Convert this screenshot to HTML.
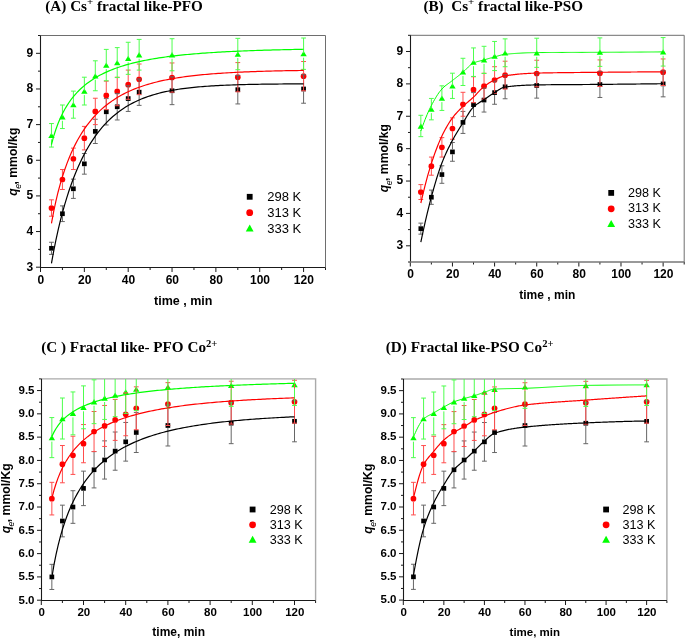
<!DOCTYPE html>
<html><head><meta charset="utf-8"><style>
html,body{margin:0;padding:0;background:#fff;}
svg{display:block;}
.tl{font-family:"Liberation Sans",sans-serif;font-weight:bold;fill:#000;}
.al{font-family:"Liberation Sans",sans-serif;font-weight:bold;fill:#000;}
.lg{font-family:"Liberation Sans",sans-serif;fill:#000;}
.tt{font-family:"Liberation Serif",serif;font-weight:bold;font-size:14px;fill:#000;}
</style></head><body>
<svg style="will-change:transform" width="685" height="639" viewBox="0 0 685 639">
<rect width="685" height="639" fill="#fff"/>
<g id="pA">
<clipPath id="cA"><rect x="40.5" y="35.5" width="285" height="231.7"/></clipPath>
<path d="M40.5 35.5H325.5V267.2" fill="none" stroke="#6e6e6e" stroke-width="1.0"/>
<path d="M36 267.2H40.5M38 249.38H40.5M36 231.55H40.5M38 213.73H40.5M36 195.91H40.5M38 178.08H40.5M36 160.26H40.5M38 142.44H40.5M36 124.62H40.5M38 106.79H40.5M36 88.97H40.5M38 71.15H40.5M36 53.32H40.5M38 35.5H40.5M40.5 267.5V272M62.42 267.5V270M84.35 267.5V272M106.27 267.5V270M128.19 267.5V272M150.12 267.5V270M172.04 267.5V272M193.96 267.5V270M215.88 267.5V272M237.81 267.5V270M259.73 267.5V272M281.65 267.5V270M303.58 267.5V272M325.5 267.5V270" stroke="#1a1a1a" stroke-width="1" fill="none"/>
<path d="M40.5 35.5V267.5" fill="none" stroke="#1a1a1a" stroke-width="1.1"/>
<path d="M40 267.5H325.5" fill="none" stroke="#1a1a1a" stroke-width="1.1"/>
<text x="33.3" y="270.5" class="tl" font-size="12" text-anchor="end">3</text>
<text x="33.3" y="234.85" class="tl" font-size="12" text-anchor="end">4</text>
<text x="33.3" y="199.21" class="tl" font-size="12" text-anchor="end">5</text>
<text x="33.3" y="163.56" class="tl" font-size="12" text-anchor="end">6</text>
<text x="33.3" y="127.92" class="tl" font-size="12" text-anchor="end">7</text>
<text x="33.3" y="92.27" class="tl" font-size="12" text-anchor="end">8</text>
<text x="33.3" y="56.62" class="tl" font-size="12" text-anchor="end">9</text>
<text x="40.8" y="283.9" class="tl" font-size="12" text-anchor="middle">0</text>
<text x="84.65" y="283.9" class="tl" font-size="12" text-anchor="middle">20</text>
<text x="128.49" y="283.9" class="tl" font-size="12" text-anchor="middle">40</text>
<text x="172.34" y="283.9" class="tl" font-size="12" text-anchor="middle">60</text>
<text x="216.18" y="283.9" class="tl" font-size="12" text-anchor="middle">80</text>
<text x="260.03" y="283.9" class="tl" font-size="12" text-anchor="middle">100</text>
<text x="303.88" y="283.9" class="tl" font-size="12" text-anchor="middle">120</text>
<text x="183.2" y="305.4" class="al" font-size="12.5" text-anchor="middle">time , min</text>
<text transform="translate(16.9 161.7) rotate(-90)" class="al" font-size="12.2" text-anchor="middle"><tspan font-style="italic">q</tspan><tspan font-style="italic" font-weight="normal" font-size="8.5" dy="4.2" dx="-0.5">e</tspan><tspan dy="-4.2" dx="-0.5">, mmol/kg</tspan></text>
<rect x="49.11" y="245.96" width="4.7" height="4.7" fill="#000"/>
<rect x="60.07" y="211.38" width="4.7" height="4.7" fill="#000"/>
<rect x="71.03" y="186.43" width="4.7" height="4.7" fill="#000"/>
<rect x="82" y="161.48" width="4.7" height="4.7" fill="#000"/>
<rect x="92.96" y="129.04" width="4.7" height="4.7" fill="#000"/>
<rect x="103.92" y="109.43" width="4.7" height="4.7" fill="#000"/>
<rect x="114.88" y="104.44" width="4.7" height="4.7" fill="#000"/>
<rect x="125.84" y="96.24" width="4.7" height="4.7" fill="#000"/>
<rect x="136.8" y="89.83" width="4.7" height="4.7" fill="#000"/>
<rect x="169.69" y="88.4" width="4.7" height="4.7" fill="#000"/>
<rect x="235.46" y="87.33" width="4.7" height="4.7" fill="#000"/>
<rect x="301.23" y="86.62" width="4.7" height="4.7" fill="#000"/>
<circle cx="51.46" cy="208.03" r="2.85" fill="#ff0000"/>
<circle cx="62.42" cy="179.51" r="2.85" fill="#ff0000"/>
<circle cx="73.38" cy="158.84" r="2.85" fill="#ff0000"/>
<circle cx="84.35" cy="138.16" r="2.85" fill="#ff0000"/>
<circle cx="95.31" cy="111.43" r="2.85" fill="#ff0000"/>
<circle cx="106.27" cy="95.39" r="2.85" fill="#ff0000"/>
<circle cx="117.23" cy="91.46" r="2.85" fill="#ff0000"/>
<circle cx="128.19" cy="84.69" r="2.85" fill="#ff0000"/>
<circle cx="139.15" cy="79.34" r="2.85" fill="#ff0000"/>
<circle cx="172.04" cy="77.56" r="2.85" fill="#ff0000"/>
<circle cx="237.81" cy="77.21" r="2.85" fill="#ff0000"/>
<circle cx="303.58" cy="76.14" r="2.85" fill="#ff0000"/>
<path d="M48.26 137.96L51.46 132.66L54.66 137.96Z" fill="#00ff00"/>
<path d="M59.22 119.42L62.42 114.12L65.62 119.42Z" fill="#00ff00"/>
<path d="M70.18 107.3L73.38 102L76.58 107.3Z" fill="#00ff00"/>
<path d="M81.15 93.76L84.35 88.46L87.55 93.76Z" fill="#00ff00"/>
<path d="M92.11 78.43L95.31 73.13L98.51 78.43Z" fill="#00ff00"/>
<path d="M103.07 67.74L106.27 62.44L109.47 67.74Z" fill="#00ff00"/>
<path d="M114.03 65.24L117.23 59.94L120.43 65.24Z" fill="#00ff00"/>
<path d="M124.99 60.96L128.19 55.66L131.39 60.96Z" fill="#00ff00"/>
<path d="M135.95 57.4L139.15 52.1L142.35 57.4Z" fill="#00ff00"/>
<path d="M168.84 57.4L172.04 52.1L175.24 57.4Z" fill="#00ff00"/>
<path d="M234.61 56.69L237.81 51.39L241.01 56.69Z" fill="#00ff00"/>
<path d="M300.38 56.33L303.58 51.03L306.78 56.33Z" fill="#00ff00"/>
<path d="M51.46 242.25V245.96M51.46 250.66V254.37M49.06 242.25H53.86M49.06 254.37H53.86M62.42 205.89V211.38M62.42 216.08V221.57M60.02 205.89H64.82M60.02 221.57H64.82M73.38 179.15V186.43M73.38 191.13V198.4M70.98 179.15H75.78M70.98 198.4H75.78M84.35 153.49V161.48M84.35 166.18V174.16M81.95 153.49H86.75M81.95 174.16H86.75M95.31 119.27V129.04M95.31 133.74V143.51M92.91 119.27H97.71M92.91 143.51H97.71M106.27 98.59V109.43M106.27 114.13V124.97M103.87 98.59H108.67M103.87 124.97H108.67M117.23 93.6V104.44M117.23 109.14V119.98M114.83 93.6H119.63M114.83 119.98H119.63M128.19 85.76V96.24M128.19 100.94V111.43M125.79 85.76H130.59M125.79 111.43H130.59M139.15 78.99V89.83M139.15 94.53V105.37M136.75 78.99H141.55M136.75 105.37H141.55M172.04 76.85V88.4M172.04 93.1V104.65M169.64 76.85H174.44M169.64 104.65H174.44M237.81 75.42V87.33M237.81 92.03V103.94M235.41 75.42H240.21M235.41 103.94H240.21M303.58 74.71V86.62M303.58 91.32V103.23M301.18 74.71H305.98M301.18 103.23H305.98" stroke="#666" stroke-width="1" fill="none" clip-path="url(#cA)"/>
<path d="M51.46 199.83V205.18M51.46 210.88V216.23M49.06 199.83H53.86M49.06 216.23H53.86M62.42 169.53V176.66M62.42 182.36V189.49M60.02 169.53H64.82M60.02 189.49H64.82M73.38 148.14V155.99M73.38 161.69V169.53M70.98 148.14H75.78M70.98 169.53H75.78M84.35 126.4V135.31M84.35 141.01V149.92M81.95 126.4H86.75M81.95 149.92H86.75M95.31 98.24V108.58M95.31 114.28V124.62M92.91 98.24H97.71M92.91 124.62H97.71M106.27 81.13V92.54M106.27 98.24V109.64M103.87 81.13H108.67M103.87 109.64H108.67M117.23 77.21V88.61M117.23 94.31V105.72M114.83 77.21H119.63M114.83 105.72H119.63M128.19 70.08V81.84M128.19 87.54V99.31M125.79 70.08H130.59M125.79 99.31H130.59M139.15 64.02V76.49M139.15 82.19V94.67M136.75 64.02H141.55M136.75 94.67H141.55M172.04 62.95V74.71M172.04 80.41V92.18M169.64 62.95H174.44M169.64 92.18H174.44M237.81 62.59V74.36M237.81 80.06V91.82M235.41 62.59H240.21M235.41 91.82H240.21M303.58 61.52V73.29M303.58 78.99V90.75M301.18 61.52H305.98M301.18 90.75H305.98" stroke="#ff4d4d" stroke-width="1" fill="none" clip-path="url(#cA)"/>
<path d="M51.46 123.55V134.81M51.46 139.31V147.07M49.06 123.55H53.86M49.06 147.07H53.86M62.42 105.01V116.27M62.42 120.77V128.54M60.02 105.01H64.82M60.02 128.54H64.82M73.38 91.11V104.15M73.38 108.65V118.2M70.98 91.11H75.78M70.98 118.2H75.78M84.35 77.21V90.61M84.35 95.11V105.01M81.95 77.21H86.75M81.95 105.01H86.75M95.31 60.81V75.28M95.31 79.78V90.75M92.91 60.81H97.71M92.91 90.75H97.71M106.27 49.4V64.59M106.27 69.09V80.77M103.87 49.4H108.67M103.87 80.77H108.67M117.23 47.62V62.09M117.23 66.59V77.56M114.83 47.62H119.63M114.83 77.56H119.63M128.19 42.27V57.81M128.19 62.31V74.35M125.79 42.27H130.59M125.79 74.35H130.59M139.15 39.42V54.25M139.15 58.75V70.08M136.75 39.42H141.55M136.75 70.08H141.55M172.04 38.71V54.25M172.04 58.75V70.79M169.64 38.71H174.44M169.64 70.79H174.44M237.81 38.35V53.54M237.81 58.04V69.72M235.41 38.35H240.21M235.41 69.72H240.21M303.58 38V53.18M303.58 57.68V69.36M301.18 38H305.98M301.18 69.36H305.98" stroke="#4dff4d" stroke-width="1" fill="none" clip-path="url(#cA)"/>
<path d="M51.46 263.33L53.65 251.27L55.85 240.35L58.04 230.37L60.23 221.2L62.42 212.73L64.62 204.88L66.81 197.59L69 190.8L71.19 184.47L73.38 178.54L75.58 173L77.77 167.81L79.96 162.94L82.15 158.37L84.35 154.08L86.54 150.04L88.73 146.24L90.92 142.67L93.12 139.31L95.31 136.14L97.5 133.16L99.69 130.35L101.88 127.7L104.08 125.2L106.27 122.85L108.46 120.63L110.65 118.53L112.85 116.56L115.04 114.69L117.23 112.93L119.42 111.28L121.62 109.71L123.81 108.23L126 106.84L128.19 105.52L130.38 104.28L132.58 103.1L134.77 102L136.96 100.95L139.15 99.97L141.35 99.04L143.54 98.16L145.73 97.33L147.92 96.55L150.12 95.81L152.31 95.12L154.5 94.46L156.69 93.84L158.88 93.25L161.08 92.7L163.27 92.18L165.46 91.69L167.65 91.23L169.85 90.79L172.04 90.38L174.23 89.99L176.42 89.62L178.62 89.28L180.81 88.95L183 88.65L185.19 88.36L187.38 88.08L189.58 87.83L191.77 87.58L193.96 87.35L196.15 87.14L198.35 86.94L200.54 86.74L202.73 86.56L204.92 86.39L207.12 86.23L209.31 86.08L211.5 85.94L213.69 85.81L215.88 85.68L218.08 85.56L220.27 85.45L222.46 85.34L224.65 85.25L226.85 85.15L229.04 85.06L231.23 84.98L233.42 84.9L235.62 84.83L237.81 84.76L240 84.7L242.19 84.64L244.38 84.58L246.58 84.52L248.77 84.47L250.96 84.42L253.15 84.38L255.35 84.34L257.54 84.3L259.73 84.26L261.92 84.22L264.12 84.19L266.31 84.16L268.5 84.13L270.69 84.1L272.88 84.08L275.08 84.05L277.27 84.03L279.46 84.01L281.65 83.99L283.85 83.97L286.04 83.95L288.23 83.93L290.42 83.92L292.62 83.9L294.81 83.89L297 83.88L299.19 83.86L301.38 83.85L303.58 83.84" stroke="#000" stroke-width="1.2" fill="none" clip-path="url(#cA)"/>
<path d="M51.46 223.3L53.65 211.59L55.85 201.33L58.04 192.22L60.23 184.06L62.42 176.69L64.62 169.99L66.81 163.87L69 158.26L71.19 153.09L73.38 148.32L75.58 143.89L77.77 139.79L79.96 135.97L82.15 132.4L84.35 129.08L86.54 125.96L88.73 123.05L90.92 120.31L93.12 117.75L95.31 115.33L97.5 113.06L99.69 110.92L101.88 108.9L104.08 107L106.27 105.2L108.46 103.5L110.65 101.9L112.85 100.38L115.04 98.94L117.23 97.58L119.42 96.28L121.62 95.06L123.81 93.9L126 92.79L128.19 91.74L130.38 90.75L132.58 89.8L134.77 88.9L136.96 88.05L139.15 87.23L141.35 86.46L143.54 85.72L145.73 85.02L147.92 84.35L150.12 83.71L152.31 83.11L154.5 82.53L156.69 81.97L158.88 81.45L161.08 80.94L163.27 80.46L165.46 80L167.65 79.57L169.85 79.15L172.04 78.75L174.23 78.37L176.42 78L178.62 77.66L180.81 77.32L183 77L185.19 76.7L187.38 76.41L189.58 76.13L191.77 75.86L193.96 75.61L196.15 75.36L198.35 75.13L200.54 74.91L202.73 74.69L204.92 74.49L207.12 74.29L209.31 74.1L211.5 73.92L213.69 73.75L215.88 73.59L218.08 73.43L220.27 73.28L222.46 73.13L224.65 72.99L226.85 72.86L229.04 72.73L231.23 72.61L233.42 72.49L235.62 72.37L237.81 72.27L240 72.16L242.19 72.06L244.38 71.97L246.58 71.87L248.77 71.79L250.96 71.7L253.15 71.62L255.35 71.54L257.54 71.47L259.73 71.39L261.92 71.33L264.12 71.26L266.31 71.19L268.5 71.13L270.69 71.07L272.88 71.02L275.08 70.96L277.27 70.91L279.46 70.86L281.65 70.81L283.85 70.77L286.04 70.72L288.23 70.68L290.42 70.64L292.62 70.6L294.81 70.56L297 70.53L299.19 70.49L301.38 70.46L303.58 70.42" stroke="#ff0000" stroke-width="1.2" fill="none" clip-path="url(#cA)"/>
<path d="M51.46 144.63L53.65 136.4L55.85 129.46L58.04 123.49L60.23 118.28L62.42 113.67L64.62 109.55L66.81 105.85L69 102.49L71.19 99.44L73.38 96.65L75.58 94.08L77.77 91.71L79.96 89.52L82.15 87.49L84.35 85.6L86.54 83.83L88.73 82.18L90.92 80.64L93.12 79.19L95.31 77.82L97.5 76.54L99.69 75.33L101.88 74.19L104.08 73.11L106.27 72.09L108.46 71.12L110.65 70.2L112.85 69.33L115.04 68.5L117.23 67.72L119.42 66.97L121.62 66.25L123.81 65.57L126 64.92L128.19 64.3L130.38 63.71L132.58 63.14L134.77 62.6L136.96 62.09L139.15 61.59L141.35 61.12L143.54 60.66L145.73 60.22L147.92 59.81L150.12 59.4L152.31 59.02L154.5 58.65L156.69 58.29L158.88 57.95L161.08 57.62L163.27 57.31L165.46 57L167.65 56.71L169.85 56.43L172.04 56.16L174.23 55.89L176.42 55.64L178.62 55.4L180.81 55.16L183 54.94L185.19 54.72L187.38 54.51L189.58 54.31L191.77 54.11L193.96 53.92L196.15 53.74L198.35 53.56L200.54 53.39L202.73 53.22L204.92 53.06L207.12 52.91L209.31 52.76L211.5 52.62L213.69 52.48L215.88 52.34L218.08 52.21L220.27 52.08L222.46 51.96L224.65 51.84L226.85 51.72L229.04 51.61L231.23 51.5L233.42 51.4L235.62 51.3L237.81 51.2L240 51.1L242.19 51.01L244.38 50.92L246.58 50.83L248.77 50.75L250.96 50.67L253.15 50.59L255.35 50.51L257.54 50.44L259.73 50.36L261.92 50.29L264.12 50.22L266.31 50.16L268.5 50.09L270.69 50.03L272.88 49.97L275.08 49.91L277.27 49.85L279.46 49.8L281.65 49.74L283.85 49.69L286.04 49.64L288.23 49.59L290.42 49.54L292.62 49.49L294.81 49.45L297 49.4L299.19 49.36L301.38 49.32L303.58 49.27" stroke="#00ff00" stroke-width="1.2" fill="none" clip-path="url(#cA)"/>
<rect x="246.8" y="193.9" width="5.8" height="5.8" fill="#000"/>
<text x="267.2" y="201.3" class="lg" font-size="13">298 K</text>
<circle cx="249.7" cy="212.7" r="3.4" fill="#ff0000"/>
<text x="267.2" y="217.1" class="lg" font-size="13">313 K</text>
<path d="M245.8 231.4L249.7 224.5L253.6 231.4Z" fill="#00ff00"/>
<text x="267.2" y="233.2" class="lg" font-size="13">333 K</text>
<text transform="translate(45.3 10.7) scale(1.085 1)" class="tt">(A) Cs<tspan font-size="10" dy="-5.8">+</tspan><tspan dy="5.8"> fractal like-PFO</tspan></text>
</g>
<g id="pB">
<clipPath id="cB"><rect x="410.3" y="35.3" width="273.9" height="226.7"/></clipPath>
<path d="M410.3 35.3H684.2V262" fill="none" stroke="#6e6e6e" stroke-width="1.0"/>
<path d="M408 262H410.5M406 245.81H410.5M408 229.61H410.5M406 213.42H410.5M408 197.23H410.5M406 181.04H410.5M408 164.84H410.5M406 148.65H410.5M408 132.46H410.5M406 116.26H410.5M408 100.07H410.5M406 83.88H410.5M408 67.69H410.5M406 51.49H410.5M408 35.3H410.5M410.3 262V266.5M431.37 262V264.5M452.44 262V266.5M473.51 262V264.5M494.58 262V266.5M515.65 262V264.5M536.72 262V266.5M557.78 262V264.5M578.85 262V266.5M599.92 262V264.5M620.99 262V266.5M642.06 262V264.5M663.13 262V266.5M684.2 262V264.5" stroke="#1a1a1a" stroke-width="1" fill="none"/>
<path d="M410.5 35.3V262" fill="none" stroke="#1a1a1a" stroke-width="1.1"/>
<path d="M410 262H684.2" fill="none" stroke="#777" stroke-width="1.6"/>
<text x="403.2" y="249.11" class="tl" font-size="12" text-anchor="end">3</text>
<text x="403.2" y="216.72" class="tl" font-size="12" text-anchor="end">4</text>
<text x="403.2" y="184.34" class="tl" font-size="12" text-anchor="end">5</text>
<text x="403.2" y="151.95" class="tl" font-size="12" text-anchor="end">6</text>
<text x="403.2" y="119.56" class="tl" font-size="12" text-anchor="end">7</text>
<text x="403.2" y="87.18" class="tl" font-size="12" text-anchor="end">8</text>
<text x="403.2" y="54.79" class="tl" font-size="12" text-anchor="end">9</text>
<text x="410.6" y="277.9" class="tl" font-size="12" text-anchor="middle">0</text>
<text x="452.74" y="277.9" class="tl" font-size="12" text-anchor="middle">20</text>
<text x="494.88" y="277.9" class="tl" font-size="12" text-anchor="middle">40</text>
<text x="537.02" y="277.9" class="tl" font-size="12" text-anchor="middle">60</text>
<text x="579.15" y="277.9" class="tl" font-size="12" text-anchor="middle">80</text>
<text x="621.29" y="277.9" class="tl" font-size="12" text-anchor="middle">100</text>
<text x="663.43" y="277.9" class="tl" font-size="12" text-anchor="middle">120</text>
<text x="547.3" y="299.2" class="al" font-size="12" text-anchor="middle">time , min</text>
<text transform="translate(388.1 158.1) rotate(-90)" class="al" font-size="12.2" text-anchor="middle"><tspan font-style="italic">q</tspan><tspan font-style="italic" font-weight="normal" font-size="8.5" dy="4.2" dx="-0.5">e</tspan><tspan dy="-4.2" dx="-0.5">, mmol/kg</tspan></text>
<rect x="418.48" y="226.29" width="4.7" height="4.7" fill="#000"/>
<rect x="429.02" y="194.88" width="4.7" height="4.7" fill="#000"/>
<rect x="439.55" y="172.21" width="4.7" height="4.7" fill="#000"/>
<rect x="450.09" y="149.54" width="4.7" height="4.7" fill="#000"/>
<rect x="460.62" y="120.07" width="4.7" height="4.7" fill="#000"/>
<rect x="471.16" y="102.26" width="4.7" height="4.7" fill="#000"/>
<rect x="481.69" y="97.72" width="4.7" height="4.7" fill="#000"/>
<rect x="492.23" y="90.27" width="4.7" height="4.7" fill="#000"/>
<rect x="502.76" y="84.44" width="4.7" height="4.7" fill="#000"/>
<rect x="534.37" y="83.15" width="4.7" height="4.7" fill="#000"/>
<rect x="597.57" y="82.18" width="4.7" height="4.7" fill="#000"/>
<rect x="660.78" y="81.53" width="4.7" height="4.7" fill="#000"/>
<circle cx="420.83" cy="192.05" r="2.85" fill="#ff0000"/>
<circle cx="431.37" cy="166.14" r="2.85" fill="#ff0000"/>
<circle cx="441.9" cy="147.35" r="2.85" fill="#ff0000"/>
<circle cx="452.44" cy="128.57" r="2.85" fill="#ff0000"/>
<circle cx="462.97" cy="104.28" r="2.85" fill="#ff0000"/>
<circle cx="473.51" cy="89.71" r="2.85" fill="#ff0000"/>
<circle cx="484.04" cy="86.15" r="2.85" fill="#ff0000"/>
<circle cx="494.58" cy="79.99" r="2.85" fill="#ff0000"/>
<circle cx="505.11" cy="75.13" r="2.85" fill="#ff0000"/>
<circle cx="536.72" cy="73.52" r="2.85" fill="#ff0000"/>
<circle cx="599.92" cy="73.19" r="2.85" fill="#ff0000"/>
<circle cx="663.13" cy="72.22" r="2.85" fill="#ff0000"/>
<path d="M417.63 128.63L420.83 123.33L424.03 128.63Z" fill="#00ff00"/>
<path d="M428.17 111.79L431.37 106.49L434.57 111.79Z" fill="#00ff00"/>
<path d="M438.7 100.78L441.9 95.48L445.1 100.78Z" fill="#00ff00"/>
<path d="M449.24 88.47L452.44 83.17L455.64 88.47Z" fill="#00ff00"/>
<path d="M459.77 74.55L462.97 69.25L466.17 74.55Z" fill="#00ff00"/>
<path d="M470.31 64.83L473.51 59.53L476.71 64.83Z" fill="#00ff00"/>
<path d="M480.84 62.56L484.04 57.26L487.24 62.56Z" fill="#00ff00"/>
<path d="M491.38 58.68L494.58 53.38L497.78 58.68Z" fill="#00ff00"/>
<path d="M501.91 55.44L505.11 50.14L508.31 55.44Z" fill="#00ff00"/>
<path d="M533.52 55.44L536.72 50.14L539.92 55.44Z" fill="#00ff00"/>
<path d="M596.72 54.79L599.92 49.49L603.12 54.79Z" fill="#00ff00"/>
<path d="M659.93 54.47L663.13 49.17L666.33 54.47Z" fill="#00ff00"/>
<path d="M420.83 223.14V226.29M420.83 230.99V234.15M418.43 223.14H423.23M418.43 234.15H423.23M431.37 190.1V194.88M431.37 199.58V204.35M428.97 190.1H433.77M428.97 204.35H433.77M441.9 165.81V172.21M441.9 176.91V183.3M439.5 165.81H444.3M439.5 183.3H444.3M452.44 142.5V149.54M452.44 154.24V161.28M450.04 142.5H454.84M450.04 161.28H454.84M462.97 111.41V120.07M462.97 124.77V133.43M460.57 111.41H465.37M460.57 133.43H465.37M473.51 92.62V102.26M473.51 106.96V116.59M471.11 92.62H475.91M471.11 116.59H475.91M484.04 88.09V97.72M484.04 102.42V112.05M481.64 88.09H486.44M481.64 112.05H486.44M494.58 80.96V90.27M494.58 94.97V104.28M492.18 80.96H496.98M492.18 104.28H496.98M505.11 74.81V84.44M505.11 89.14V98.78M502.71 74.81H507.51M502.71 98.78H507.51M536.72 72.87V83.15M536.72 87.85V98.13M534.32 72.87H539.12M534.32 98.13H539.12M599.92 71.57V82.18M599.92 86.88V97.48M597.52 71.57H602.32M597.52 97.48H602.32M663.13 70.92V81.53M663.13 86.23V96.83M660.73 70.92H665.53M660.73 96.83H665.53" stroke="#666" stroke-width="1" fill="none" clip-path="url(#cB)"/>
<path d="M420.83 184.6V189.2M420.83 194.9V199.5M418.43 184.6H423.23M418.43 199.5H423.23M431.37 157.07V163.29M431.37 168.99V175.21M428.97 157.07H433.77M428.97 175.21H433.77M441.9 137.64V144.5M441.9 150.2V157.07M439.5 137.64H444.3M439.5 157.07H444.3M452.44 117.88V125.72M452.44 131.42V139.26M450.04 117.88H454.84M450.04 139.26H454.84M462.97 92.3V101.43M462.97 107.13V116.26M460.57 92.3H465.37M460.57 116.26H465.37M473.51 76.75V86.86M473.51 92.56V102.66M471.11 76.75H475.91M471.11 102.66H475.91M484.04 73.19V83.3M484.04 89V99.1M481.64 73.19H486.44M481.64 99.1H486.44M494.58 66.71V77.14M494.58 82.84V93.27M492.18 66.71H496.98M492.18 93.27H496.98M505.11 61.21V72.28M505.11 77.98V89.06M502.71 61.21H507.51M502.71 89.06H507.51M536.72 60.24V70.67M536.72 76.37V86.79M534.32 60.24H539.12M534.32 86.79H539.12M599.92 59.91V70.34M599.92 76.04V86.47M597.52 59.91H602.32M597.52 86.47H602.32M663.13 58.94V69.37M663.13 75.07V85.5M660.73 58.94H665.53M660.73 85.5H665.53" stroke="#ff4d4d" stroke-width="1" fill="none" clip-path="url(#cB)"/>
<path d="M420.83 115.29V125.48M420.83 129.98V136.67M418.43 115.29H423.23M418.43 136.67H423.23M431.37 98.45V108.64M431.37 113.14V119.83M428.97 98.45H433.77M428.97 119.83H433.77M441.9 85.82V97.63M441.9 102.13V110.43M439.5 85.82H444.3M439.5 110.43H444.3M452.44 73.19V85.32M452.44 89.82V98.45M450.04 73.19H454.84M450.04 98.45H454.84M462.97 58.29V71.4M462.97 75.9V85.5M460.57 58.29H465.37M460.57 85.5H465.37M473.51 47.93V61.68M473.51 66.18V76.43M471.11 47.93H475.91M471.11 76.43H475.91M484.04 46.31V59.41M484.04 63.91V73.52M481.64 46.31H486.44M481.64 73.52H486.44M494.58 41.45V55.53M494.58 60.03V70.6M492.18 41.45H496.98M492.18 70.6H496.98M505.11 38.86V52.29M505.11 56.79V66.71M502.71 38.86H507.51M502.71 66.71H507.51M536.72 38.21V52.29M536.72 56.79V67.36M534.32 38.21H539.12M534.32 67.36H539.12M599.92 37.89V51.64M599.92 56.14V66.39M597.52 37.89H602.32M597.52 66.39H602.32M663.13 37.57V51.32M663.13 55.82V66.07M660.73 37.57H665.53M660.73 66.07H665.53" stroke="#4dff4d" stroke-width="1" fill="none" clip-path="url(#cB)"/>
<path d="M420.83 242.2L421.89 237.17L422.94 232.24L424 227.41L425.05 222.7L426.1 218.1L427.16 213.62L428.21 209.27L429.26 205.04L430.32 200.95L431.37 197L432.42 193.15L433.48 189.37L434.53 185.66L435.58 182.05L436.64 178.54L437.69 175.15L438.74 171.89L439.8 168.77L440.85 165.8L441.9 163L442.96 160.35L444.01 157.81L445.06 155.37L446.12 153.03L447.17 150.78L448.22 148.6L449.28 146.48L450.33 144.41L451.38 142.39L452.44 140.4L453.49 138.45L454.55 136.57L455.6 134.74L456.65 132.95L457.71 131.21L458.76 129.49L459.81 127.8L460.87 126.13L461.92 124.46L462.97 122.8L464.03 121.1L465.08 119.35L466.13 117.57L467.19 115.81L468.24 114.08L469.29 112.41L470.35 110.85L471.4 109.4L472.45 108.11L473.51 107L474.56 106.04L475.61 105.17L476.67 104.37L477.72 103.63L478.78 102.94L479.83 102.27L480.88 101.62L481.94 100.97L482.99 100.3L484.04 99.6L485.1 98.88L486.15 98.15L487.2 97.42L488.26 96.7L489.31 95.98L490.36 95.27L491.42 94.57L492.47 93.89L493.52 93.24L494.58 92.6L495.63 91.95L496.68 91.27L497.74 90.57L498.79 89.87L499.84 89.2L500.9 88.58L501.95 88.03L503 87.57L504.06 87.22L505.11 87L506.17 86.86L507.22 86.73L508.27 86.6L509.33 86.48L510.38 86.36L511.43 86.25L512.49 86.14L513.54 86.04L514.59 85.95L515.65 85.86L516.7 85.77L517.75 85.69L518.81 85.61L519.86 85.54L520.91 85.48L521.97 85.41L523.02 85.35L524.07 85.3L525.13 85.25L526.18 85.2L527.23 85.16L528.29 85.11L529.34 85.08L530.39 85.04L531.45 85.01L532.5 84.98L533.56 84.96L534.61 84.94L535.66 84.92L536.72 84.9L537.77 84.88L538.82 84.87L539.88 84.85L540.93 84.84L541.98 84.83L543.04 84.81L544.09 84.8L545.14 84.79L546.2 84.77L547.25 84.76L548.3 84.75L549.36 84.74L550.41 84.73L551.46 84.72L552.52 84.71L553.57 84.7L554.62 84.69L555.68 84.68L556.73 84.68L557.78 84.67L558.84 84.66L559.89 84.65L560.95 84.65L562 84.64L563.05 84.63L564.11 84.63L565.16 84.62L566.21 84.61L567.27 84.61L568.32 84.6L569.37 84.59L570.43 84.59L571.48 84.58L572.53 84.58L573.59 84.57L574.64 84.57L575.69 84.56L576.75 84.55L577.8 84.55L578.85 84.54L579.91 84.54L580.96 84.53L582.01 84.53L583.07 84.52L584.12 84.51L585.17 84.51L586.23 84.5L587.28 84.5L588.34 84.49L589.39 84.48L590.44 84.47L591.5 84.47L592.55 84.46L593.6 84.45L594.66 84.44L595.71 84.44L596.76 84.43L597.82 84.42L598.87 84.41L599.92 84.4L600.98 84.39L602.03 84.38L603.08 84.37L604.14 84.36L605.19 84.35L606.24 84.34L607.3 84.33L608.35 84.32L609.4 84.31L610.46 84.3L611.51 84.29L612.56 84.28L613.62 84.27L614.67 84.26L615.73 84.25L616.78 84.24L617.83 84.22L618.89 84.21L619.94 84.2L620.99 84.19L622.05 84.18L623.1 84.17L624.15 84.16L625.21 84.15L626.26 84.14L627.31 84.12L628.37 84.11L629.42 84.1L630.47 84.09L631.53 84.08L632.58 84.07L633.63 84.05L634.69 84.04L635.74 84.03L636.79 84.02L637.85 84.01L638.9 83.99L639.95 83.98L641.01 83.97L642.06 83.96L643.12 83.94L644.17 83.93L645.22 83.92L646.28 83.91L647.33 83.89L648.38 83.88L649.44 83.87L650.49 83.86L651.54 83.84L652.6 83.83L653.65 83.82L654.7 83.81L655.76 83.79L656.81 83.78L657.86 83.77L658.92 83.75L659.97 83.74L661.02 83.73L662.08 83.71L663.13 83.7" stroke="#000" stroke-width="1.2" fill="none" clip-path="url(#cB)"/>
<path d="M420.83 203L421.89 198.5L422.94 194.11L424 189.82L425.05 185.66L426.1 181.62L427.16 177.71L428.21 173.93L429.26 170.3L430.32 166.82L431.37 163.5L432.42 160.3L433.48 157.19L434.53 154.17L435.58 151.25L436.64 148.43L437.69 145.71L438.74 143.11L439.8 140.62L440.85 138.25L441.9 136L442.96 133.85L444.01 131.77L445.06 129.77L446.12 127.84L447.17 125.98L448.22 124.2L449.28 122.5L450.33 120.88L451.38 119.35L452.44 117.9L453.49 116.53L454.55 115.23L455.6 114L456.65 112.81L457.71 111.68L458.76 110.58L459.81 109.51L460.87 108.46L461.92 107.43L462.97 106.4L464.03 105.4L465.08 104.43L466.13 103.5L467.19 102.6L468.24 101.7L469.29 100.81L470.35 99.92L471.4 99.01L472.45 98.07L473.51 97.1L474.56 96.07L475.61 94.99L476.67 93.87L477.72 92.72L478.78 91.58L479.83 90.45L480.88 89.36L481.94 88.33L482.99 87.37L484.04 86.5L485.1 85.7L486.15 84.93L487.2 84.2L488.26 83.49L489.31 82.82L490.36 82.17L491.42 81.56L492.47 80.97L493.52 80.42L494.58 79.9L495.63 79.39L496.68 78.88L497.74 78.37L498.79 77.89L499.84 77.42L500.9 77L501.95 76.61L503 76.28L504.06 76L505.11 75.8L506.17 75.64L507.22 75.48L508.27 75.33L509.33 75.18L510.38 75.04L511.43 74.91L512.49 74.78L513.54 74.66L514.59 74.54L515.65 74.42L516.7 74.31L517.75 74.21L518.81 74.11L519.86 74.02L520.91 73.93L521.97 73.84L523.02 73.76L524.07 73.68L525.13 73.61L526.18 73.55L527.23 73.48L528.29 73.42L529.34 73.37L530.39 73.32L531.45 73.27L532.5 73.23L533.56 73.19L534.61 73.16L535.66 73.13L536.72 73.1L537.77 73.08L538.82 73.05L539.88 73.03L540.93 73L541.98 72.98L543.04 72.96L544.09 72.94L545.14 72.92L546.2 72.9L547.25 72.88L548.3 72.86L549.36 72.84L550.41 72.82L551.46 72.81L552.52 72.79L553.57 72.77L554.62 72.76L555.68 72.74L556.73 72.73L557.78 72.71L558.84 72.7L559.89 72.69L560.95 72.67L562 72.66L563.05 72.65L564.11 72.63L565.16 72.62L566.21 72.61L567.27 72.6L568.32 72.59L569.37 72.58L570.43 72.57L571.48 72.55L572.53 72.54L573.59 72.53L574.64 72.52L575.69 72.51L576.75 72.5L577.8 72.5L578.85 72.49L579.91 72.48L580.96 72.47L582.01 72.46L583.07 72.45L584.12 72.44L585.17 72.43L586.23 72.42L587.28 72.41L588.34 72.4L589.39 72.4L590.44 72.39L591.5 72.38L592.55 72.37L593.6 72.36L594.66 72.35L595.71 72.34L596.76 72.33L597.82 72.32L598.87 72.31L599.92 72.3L600.98 72.29L602.03 72.28L603.08 72.27L604.14 72.26L605.19 72.25L606.24 72.24L607.3 72.23L608.35 72.22L609.4 72.21L610.46 72.2L611.51 72.19L612.56 72.18L613.62 72.17L614.67 72.16L615.73 72.15L616.78 72.14L617.83 72.13L618.89 72.12L619.94 72.11L620.99 72.11L622.05 72.1L623.1 72.09L624.15 72.08L625.21 72.07L626.26 72.06L627.31 72.05L628.37 72.04L629.42 72.03L630.47 72.03L631.53 72.02L632.58 72.01L633.63 72L634.69 71.99L635.74 71.98L636.79 71.98L637.85 71.97L638.9 71.96L639.95 71.95L641.01 71.94L642.06 71.94L643.12 71.93L644.17 71.92L645.22 71.91L646.28 71.91L647.33 71.9L648.38 71.89L649.44 71.88L650.49 71.88L651.54 71.87L652.6 71.86L653.65 71.86L654.7 71.85L655.76 71.84L656.81 71.84L657.86 71.83L658.92 71.82L659.97 71.82L661.02 71.81L662.08 71.81L663.13 71.8" stroke="#ff0000" stroke-width="1.2" fill="none" clip-path="url(#cB)"/>
<path d="M420.83 131L421.89 128.04L422.94 125.15L424 122.34L425.05 119.63L426.1 117L427.16 114.48L428.21 112.06L429.26 109.76L430.32 107.57L431.37 105.5L432.42 103.52L433.48 101.58L434.53 99.7L435.58 97.88L436.64 96.15L437.69 94.5L438.74 92.95L439.8 91.51L440.85 90.19L441.9 89L442.96 87.93L444.01 86.95L445.06 86.04L446.12 85.2L447.17 84.4L448.22 83.62L449.28 82.86L450.33 82.1L451.38 81.32L452.44 80.5L453.49 79.67L454.55 78.84L455.6 78.02L456.65 77.21L457.71 76.39L458.76 75.57L459.81 74.75L460.87 73.91L461.92 73.06L462.97 72.2L464.03 71.28L465.08 70.27L466.13 69.22L467.19 68.15L468.24 67.09L469.29 66.07L470.35 65.12L471.4 64.27L472.45 63.55L473.51 63L474.56 62.57L475.61 62.18L476.67 61.84L477.72 61.53L478.78 61.25L479.83 60.99L480.88 60.73L481.94 60.46L482.99 60.19L484.04 59.9L485.1 59.59L486.15 59.29L487.2 58.98L488.26 58.67L489.31 58.37L490.36 58.06L491.42 57.77L492.47 57.47L493.52 57.18L494.58 56.9L495.63 56.61L496.68 56.31L497.74 55.99L498.79 55.68L499.84 55.38L500.9 55.1L501.95 54.84L503 54.61L504.06 54.43L505.11 54.3L506.17 54.2L507.22 54.1L508.27 54L509.33 53.91L510.38 53.82L511.43 53.73L512.49 53.65L513.54 53.57L514.59 53.49L515.65 53.42L516.7 53.35L517.75 53.28L518.81 53.22L519.86 53.16L520.91 53.1L521.97 53.04L523.02 52.99L524.07 52.94L525.13 52.9L526.18 52.85L527.23 52.81L528.29 52.78L529.34 52.75L530.39 52.72L531.45 52.69L532.5 52.66L533.56 52.64L534.61 52.63L535.66 52.61L536.72 52.6L537.77 52.59L538.82 52.58L539.88 52.57L540.93 52.56L541.98 52.55L543.04 52.55L544.09 52.54L545.14 52.53L546.2 52.52L547.25 52.52L548.3 52.51L549.36 52.5L550.41 52.5L551.46 52.49L552.52 52.48L553.57 52.48L554.62 52.47L555.68 52.47L556.73 52.46L557.78 52.46L558.84 52.45L559.89 52.45L560.95 52.44L562 52.44L563.05 52.44L564.11 52.43L565.16 52.43L566.21 52.42L567.27 52.42L568.32 52.42L569.37 52.41L570.43 52.41L571.48 52.41L572.53 52.4L573.59 52.4L574.64 52.4L575.69 52.39L576.75 52.39L577.8 52.39L578.85 52.38L579.91 52.38L580.96 52.38L582.01 52.37L583.07 52.37L584.12 52.37L585.17 52.36L586.23 52.36L587.28 52.36L588.34 52.35L589.39 52.35L590.44 52.34L591.5 52.34L592.55 52.34L593.6 52.33L594.66 52.33L595.71 52.32L596.76 52.32L597.82 52.31L598.87 52.31L599.92 52.3L600.98 52.29L602.03 52.29L603.08 52.28L604.14 52.28L605.19 52.27L606.24 52.27L607.3 52.26L608.35 52.25L609.4 52.25L610.46 52.24L611.51 52.24L612.56 52.23L613.62 52.22L614.67 52.22L615.73 52.21L616.78 52.2L617.83 52.2L618.89 52.19L619.94 52.19L620.99 52.18L622.05 52.17L623.1 52.17L624.15 52.16L625.21 52.15L626.26 52.15L627.31 52.14L628.37 52.13L629.42 52.13L630.47 52.12L631.53 52.11L632.58 52.11L633.63 52.1L634.69 52.09L635.74 52.09L636.79 52.08L637.85 52.07L638.9 52.07L639.95 52.06L641.01 52.05L642.06 52.04L643.12 52.04L644.17 52.03L645.22 52.02L646.28 52.02L647.33 52.01L648.38 52L649.44 52L650.49 51.99L651.54 51.98L652.6 51.97L653.65 51.97L654.7 51.96L655.76 51.95L656.81 51.94L657.86 51.94L658.92 51.93L659.97 51.92L661.02 51.91L662.08 51.91L663.13 51.9" stroke="#00ff00" stroke-width="1.0" fill="none" clip-path="url(#cB)"/>
<rect x="608.3" y="190" width="5.8" height="5.8" fill="#000"/>
<text x="628.1" y="197.1" class="lg" font-size="12.6">298 K</text>
<circle cx="611.2" cy="208.8" r="3.4" fill="#ff0000"/>
<text x="628.1" y="212.4" class="lg" font-size="12.6">313 K</text>
<path d="M607.3 227L611.2 220.1L615.1 227Z" fill="#00ff00"/>
<text x="628.1" y="228.1" class="lg" font-size="12.6">333 K</text>
<text transform="translate(423.4 10.7) scale(1.085 1)" class="tt">(B)&#160; Cs<tspan font-size="10" dy="-5.8">+</tspan><tspan dy="5.8"> fractal like-PSO</tspan></text>
</g>
<g id="pC">
<clipPath id="cC"><rect x="41.3" y="378.9" width="274.3" height="221.3"/></clipPath>
<path d="M41.3 378.9H315.6V600.2" fill="none" stroke="#aaa" stroke-width="1.4"/>
<path d="M37 600.2H41.5M39 588.55H41.5M37 576.91H41.5M39 565.26H41.5M37 553.61H41.5M39 541.96H41.5M37 530.32H41.5M39 518.67H41.5M37 507.02H41.5M39 495.37H41.5M37 483.73H41.5M39 472.08H41.5M37 460.43H41.5M39 448.78H41.5M37 437.14H41.5M39 425.49H41.5M37 413.84H41.5M39 402.19H41.5M37 390.55H41.5M39 378.9H41.5M41.3 600.5V605M62.4 600.5V603M83.5 600.5V605M104.6 600.5V603M125.7 600.5V605M146.8 600.5V603M167.9 600.5V605M189 600.5V603M210.1 600.5V605M231.2 600.5V603M252.3 600.5V605M273.4 600.5V603M294.5 600.5V605M315.6 600.5V603" stroke="#1a1a1a" stroke-width="1" fill="none"/>
<path d="M41.5 378.9V600.5" fill="none" stroke="#1a1a1a" stroke-width="1.1"/>
<path d="M41 600.5H315.6" fill="none" stroke="#1a1a1a" stroke-width="1.1"/>
<text x="34.5" y="603.5" class="tl" font-size="11.5" text-anchor="end">5.0</text>
<text x="34.5" y="580.21" class="tl" font-size="11.5" text-anchor="end">5.5</text>
<text x="34.5" y="556.91" class="tl" font-size="11.5" text-anchor="end">6.0</text>
<text x="34.5" y="533.62" class="tl" font-size="11.5" text-anchor="end">6.5</text>
<text x="34.5" y="510.32" class="tl" font-size="11.5" text-anchor="end">7.0</text>
<text x="34.5" y="487.03" class="tl" font-size="11.5" text-anchor="end">7.5</text>
<text x="34.5" y="463.73" class="tl" font-size="11.5" text-anchor="end">8.0</text>
<text x="34.5" y="440.44" class="tl" font-size="11.5" text-anchor="end">8.5</text>
<text x="34.5" y="417.14" class="tl" font-size="11.5" text-anchor="end">9.0</text>
<text x="34.5" y="393.85" class="tl" font-size="11.5" text-anchor="end">9.5</text>
<text x="41.6" y="616" class="tl" font-size="11.5" text-anchor="middle">0</text>
<text x="83.8" y="616" class="tl" font-size="11.5" text-anchor="middle">20</text>
<text x="126" y="616" class="tl" font-size="11.5" text-anchor="middle">40</text>
<text x="168.2" y="616" class="tl" font-size="11.5" text-anchor="middle">60</text>
<text x="210.4" y="616" class="tl" font-size="11.5" text-anchor="middle">80</text>
<text x="252.6" y="616" class="tl" font-size="11.5" text-anchor="middle">100</text>
<text x="294.8" y="616" class="tl" font-size="11.5" text-anchor="middle">120</text>
<text x="178.7" y="636.3" class="al" font-size="12" text-anchor="middle">time, min</text>
<text transform="translate(9.6 498.3) rotate(-90)" class="al" font-size="12.2" text-anchor="middle"><tspan font-style="italic">q</tspan><tspan font-style="italic" font-weight="normal" font-size="8.5" dy="4.2" dx="-0.5">e</tspan><tspan dy="-4.2" dx="-0.5">, mmol/Kg</tspan></text>
<rect x="49.5" y="574.56" width="4.7" height="4.7" fill="#000"/>
<rect x="60.05" y="518.65" width="4.7" height="4.7" fill="#000"/>
<rect x="70.6" y="504.67" width="4.7" height="4.7" fill="#000"/>
<rect x="81.15" y="486.04" width="4.7" height="4.7" fill="#000"/>
<rect x="91.7" y="467.4" width="4.7" height="4.7" fill="#000"/>
<rect x="102.25" y="457.62" width="4.7" height="4.7" fill="#000"/>
<rect x="112.8" y="448.76" width="4.7" height="4.7" fill="#000"/>
<rect x="123.35" y="439.45" width="4.7" height="4.7" fill="#000"/>
<rect x="133.9" y="430.13" width="4.7" height="4.7" fill="#000"/>
<rect x="165.55" y="423.14" width="4.7" height="4.7" fill="#000"/>
<rect x="228.85" y="420.81" width="4.7" height="4.7" fill="#000"/>
<rect x="292.15" y="418.95" width="4.7" height="4.7" fill="#000"/>
<circle cx="51.85" cy="498.63" r="2.85" fill="#ff0000"/>
<circle cx="62.4" cy="464.16" r="2.85" fill="#ff0000"/>
<circle cx="72.95" cy="455.31" r="2.85" fill="#ff0000"/>
<circle cx="83.5" cy="443.66" r="2.85" fill="#ff0000"/>
<circle cx="94.05" cy="431.55" r="2.85" fill="#ff0000"/>
<circle cx="104.6" cy="425.96" r="2.85" fill="#ff0000"/>
<circle cx="115.15" cy="419.9" r="2.85" fill="#ff0000"/>
<circle cx="125.7" cy="414.31" r="2.85" fill="#ff0000"/>
<circle cx="136.25" cy="408.25" r="2.85" fill="#ff0000"/>
<circle cx="167.9" cy="404.06" r="2.85" fill="#ff0000"/>
<circle cx="231.2" cy="402.66" r="2.85" fill="#ff0000"/>
<circle cx="294.5" cy="401.73" r="2.85" fill="#ff0000"/>
<path d="M48.65 440.25L51.85 434.95L55.05 440.25Z" fill="#00ff00"/>
<path d="M59.2 421.15L62.4 415.85L65.6 421.15Z" fill="#00ff00"/>
<path d="M69.75 416.03L72.95 410.73L76.15 416.03Z" fill="#00ff00"/>
<path d="M80.3 409.97L83.5 404.67L86.7 409.97Z" fill="#00ff00"/>
<path d="M90.85 404.38L94.05 399.08L97.25 404.38Z" fill="#00ff00"/>
<path d="M101.4 400.65L104.6 395.35L107.8 400.65Z" fill="#00ff00"/>
<path d="M111.95 397.86L115.15 392.56L118.35 397.86Z" fill="#00ff00"/>
<path d="M122.5 394.6L125.7 389.3L128.9 394.6Z" fill="#00ff00"/>
<path d="M133.05 391.8L136.25 386.5L139.45 391.8Z" fill="#00ff00"/>
<path d="M164.7 389.47L167.9 384.17L171.1 389.47Z" fill="#00ff00"/>
<path d="M228 388.07L231.2 382.77L234.4 388.07Z" fill="#00ff00"/>
<path d="M291.3 387.14L294.5 381.84L297.7 387.14Z" fill="#00ff00"/>
<path d="M51.85 564.33V574.56M51.85 579.26V589.48M49.45 564.33H54.25M49.45 589.48H54.25M62.4 505.16V518.65M62.4 523.35V536.84M60 505.16H64.8M60 536.84H64.8M72.95 490.71V504.67M72.95 509.37V523.33M70.55 490.71H75.35M70.55 523.33H75.35M83.5 471.15V486.04M83.5 490.74V505.62M81.1 471.15H85.9M81.1 505.62H85.9M94.05 451.58V467.4M94.05 472.1V487.92M91.65 451.58H96.45M91.65 487.92H96.45M104.6 440.86V457.62M104.6 462.32V479.07M102.2 440.86H107M102.2 479.07H107M115.15 432.01V448.76M115.15 453.46V470.22M112.75 432.01H117.55M112.75 470.22H117.55M125.7 422.46V439.45M125.7 444.15V461.13M123.3 422.46H128.1M123.3 461.13H128.1M136.25 412.44V430.13M136.25 434.83V452.51M133.85 412.44H138.65M133.85 452.51H138.65M167.9 404.99V423.14M167.9 427.84V445.99M165.5 404.99H170.3M165.5 445.99H170.3M231.2 402.66V420.81M231.2 425.51V443.66M228.8 402.66H233.6M228.8 443.66H233.6M294.5 400.8V418.95M294.5 423.65V441.8M292.1 400.8H296.9M292.1 441.8H296.9" stroke="#666" stroke-width="1" fill="none" clip-path="url(#cC)"/>
<path d="M51.85 482.33V495.78M51.85 501.48V514.94M49.45 482.33H54.25M49.45 514.94H54.25M62.4 445.52V461.31M62.4 467.01V482.79M60 445.52H64.8M60 482.79H64.8M72.95 436.21V452.46M72.95 458.16V474.41M70.55 436.21H75.35M70.55 474.41H75.35M83.5 424.56V440.81M83.5 446.51V462.76M81.1 424.56H85.9M81.1 462.76H85.9M94.05 411.51V428.7M94.05 434.4V451.58M91.65 411.51H96.45M91.65 451.58H96.45M104.6 405.46V423.11M104.6 428.81V446.45M102.2 405.46H107M102.2 446.45H107M115.15 399.4V417.05M115.15 422.75V440.4M112.75 399.4H117.55M112.75 440.4H117.55M125.7 392.88V411.46M125.7 417.16V435.74M123.3 392.88H128.1M123.3 435.74H128.1M136.25 386.82V405.4M136.25 411.1V429.68M133.85 386.82H138.65M133.85 429.68H138.65M167.9 382.63V401.21M167.9 406.91V425.49M165.5 382.63H170.3M165.5 425.49H170.3M231.2 381.23V399.81M231.2 405.51V424.09M228.8 381.23H233.6M228.8 424.09H233.6M294.5 380.3V398.88M294.5 404.58V423.16M292.1 380.3H296.9M292.1 423.16H296.9" stroke="#ff4d4d" stroke-width="1" fill="none" clip-path="url(#cC)"/>
<path d="M51.85 417.57V437.1M51.85 441.6V457.64M49.45 417.57H54.25M49.45 457.64H54.25M62.4 398V418M62.4 422.5V439M60 398H64.8M60 439H64.8M72.95 391.95V412.88M72.95 417.38V434.81M70.55 391.95H75.35M70.55 434.81H75.35M83.5 385.89V406.82M83.5 411.32V428.75M81.1 385.89H85.9M81.1 428.75H85.9M94.05 379.83V401.23M94.05 405.73V423.63M91.65 379.83H96.45M91.65 423.63H96.45M104.6 376.57V397.5M104.6 402V419.43M102.2 376.57H107M102.2 419.43H107M115.15 373.78V394.71M115.15 399.21V416.64M112.75 373.78H117.55M112.75 416.64H117.55M125.7 370.51V391.45M125.7 395.95V413.38M123.3 370.51H128.1M123.3 413.38H128.1M136.25 367.72V388.65M136.25 393.15V410.58M133.85 367.72H138.65M133.85 410.58H138.65M167.9 365.39V386.32M167.9 390.82V408.25M165.5 365.39H170.3M165.5 408.25H170.3M231.2 364.46V384.92M231.2 389.42V406.39M228.8 364.46H233.6M228.8 406.39H233.6M294.5 363.53V383.99M294.5 388.49V405.46M292.1 363.53H296.9M292.1 405.46H296.9" stroke="#4dff4d" stroke-width="1" fill="none" clip-path="url(#cC)"/>
<path d="M51.85 577.48L53.96 564.98L56.07 554.31L58.18 545.02L60.29 536.83L62.4 529.52L64.51 522.95L66.62 517L68.73 511.57L70.84 506.59L72.95 502.01L75.06 497.78L77.17 493.86L79.28 490.21L81.39 486.8L83.5 483.62L85.61 480.63L87.72 477.83L89.83 475.2L91.94 472.71L94.05 470.37L96.16 468.15L98.27 466.05L100.38 464.06L102.49 462.18L104.6 460.38L106.71 458.68L108.82 457.05L110.93 455.51L113.04 454.03L115.15 452.62L117.26 451.28L119.37 449.99L121.48 448.76L123.59 447.58L125.7 446.45L127.81 445.37L129.92 444.34L132.03 443.34L134.14 442.38L136.25 441.47L138.36 440.58L140.47 439.73L142.58 438.92L144.69 438.13L146.8 437.38L148.91 436.65L151.02 435.95L153.13 435.27L155.24 434.62L157.35 433.99L159.46 433.38L161.57 432.79L163.68 432.22L165.79 431.68L167.9 431.15L170.01 430.64L172.12 430.14L174.23 429.66L176.34 429.2L178.45 428.75L180.56 428.32L182.67 427.9L184.78 427.5L186.89 427.1L189 426.72L191.11 426.35L193.22 425.99L195.33 425.65L197.44 425.31L199.55 424.98L201.66 424.67L203.77 424.36L205.88 424.06L207.99 423.77L210.1 423.49L212.21 423.22L214.32 422.95L216.43 422.69L218.54 422.44L220.65 422.2L222.76 421.96L224.87 421.73L226.98 421.51L229.09 421.29L231.2 421.08L233.31 420.88L235.42 420.68L237.53 420.48L239.64 420.29L241.75 420.11L243.86 419.93L245.97 419.76L248.08 419.59L250.19 419.42L252.3 419.26L254.41 419.1L256.52 418.95L258.63 418.8L260.74 418.66L262.85 418.52L264.96 418.38L267.07 418.25L269.18 418.12L271.29 417.99L273.4 417.86L275.51 417.74L277.62 417.62L279.73 417.51L281.84 417.4L283.95 417.29L286.06 417.18L288.17 417.08L290.28 416.97L292.39 416.88L294.5 416.78" stroke="#000" stroke-width="1.2" fill="none" clip-path="url(#cC)"/>
<path d="M51.85 498.38L53.96 490.28L56.07 483.47L58.18 477.61L60.29 472.51L62.4 467.99L64.51 463.95L66.62 460.31L68.73 457L70.84 453.98L72.95 451.21L75.06 448.66L77.17 446.29L79.28 444.09L81.39 442.05L83.5 440.13L85.61 438.34L87.72 436.65L89.83 435.07L91.94 433.57L94.05 432.16L96.16 430.82L98.27 429.55L100.38 428.35L102.49 427.21L104.6 426.12L106.71 425.08L108.82 424.09L110.93 423.15L113.04 422.25L115.15 421.39L117.26 420.56L119.37 419.77L121.48 419.01L123.59 418.28L125.7 417.59L127.81 416.91L129.92 416.27L132.03 415.65L134.14 415.05L136.25 414.48L138.36 413.92L140.47 413.39L142.58 412.87L144.69 412.37L146.8 411.89L148.91 411.43L151.02 410.98L153.13 410.55L155.24 410.13L157.35 409.72L159.46 409.33L161.57 408.95L163.68 408.58L165.79 408.23L167.9 407.88L170.01 407.55L172.12 407.22L174.23 406.91L176.34 406.6L178.45 406.3L180.56 406.02L182.67 405.74L184.78 405.46L186.89 405.2L189 404.94L191.11 404.7L193.22 404.45L195.33 404.22L197.44 403.99L199.55 403.77L201.66 403.55L203.77 403.34L205.88 403.13L207.99 402.93L210.1 402.74L212.21 402.55L214.32 402.36L216.43 402.18L218.54 402.01L220.65 401.84L222.76 401.67L224.87 401.51L226.98 401.35L229.09 401.2L231.2 401.04L233.31 400.9L235.42 400.75L237.53 400.61L239.64 400.48L241.75 400.34L243.86 400.21L245.97 400.09L248.08 399.96L250.19 399.84L252.3 399.72L254.41 399.61L256.52 399.5L258.63 399.38L260.74 399.28L262.85 399.17L264.96 399.07L267.07 398.97L269.18 398.87L271.29 398.77L273.4 398.68L275.51 398.59L277.62 398.5L279.73 398.41L281.84 398.32L283.95 398.24L286.06 398.16L288.17 398.08L290.28 398L292.39 397.92L294.5 397.84" stroke="#ff0000" stroke-width="1.2" fill="none" clip-path="url(#cC)"/>
<path d="M51.85 436.56L53.96 432.15L56.07 428.5L58.18 425.4L60.29 422.72L62.4 420.37L64.51 418.28L66.62 416.4L68.73 414.71L70.84 413.17L72.95 411.76L75.06 410.46L77.17 409.26L79.28 408.15L81.39 407.11L83.5 406.14L85.61 405.23L87.72 404.38L89.83 403.58L91.94 402.83L94.05 402.11L96.16 401.43L98.27 400.79L100.38 400.18L102.49 399.6L104.6 399.05L106.71 398.52L108.82 398.01L110.93 397.53L113.04 397.07L115.15 396.62L117.26 396.2L119.37 395.79L121.48 395.4L123.59 395.02L125.7 394.66L127.81 394.31L129.92 393.97L132.03 393.64L134.14 393.33L136.25 393.02L138.36 392.73L140.47 392.45L142.58 392.17L144.69 391.91L146.8 391.65L148.91 391.4L151.02 391.16L153.13 390.92L155.24 390.69L157.35 390.47L159.46 390.26L161.57 390.05L163.68 389.84L165.79 389.65L167.9 389.46L170.01 389.27L172.12 389.09L174.23 388.91L176.34 388.74L178.45 388.57L180.56 388.4L182.67 388.25L184.78 388.09L186.89 387.94L189 387.79L191.11 387.64L193.22 387.5L195.33 387.37L197.44 387.23L199.55 387.1L201.66 386.97L203.77 386.85L205.88 386.72L207.99 386.6L210.1 386.48L212.21 386.37L214.32 386.26L216.43 386.15L218.54 386.04L220.65 385.93L222.76 385.83L224.87 385.73L226.98 385.63L229.09 385.53L231.2 385.44L233.31 385.35L235.42 385.26L237.53 385.17L239.64 385.08L241.75 384.99L243.86 384.91L245.97 384.83L248.08 384.74L250.19 384.67L252.3 384.59L254.41 384.51L256.52 384.44L258.63 384.36L260.74 384.29L262.85 384.22L264.96 384.15L267.07 384.08L269.18 384.01L271.29 383.95L273.4 383.88L275.51 383.82L277.62 383.75L279.73 383.69L281.84 383.63L283.95 383.57L286.06 383.51L288.17 383.46L290.28 383.4L292.39 383.34L294.5 383.29" stroke="#00ff00" stroke-width="1.2" fill="none" clip-path="url(#cC)"/>
<rect x="249.7" y="506.6" width="5.8" height="5.8" fill="#000"/>
<text x="269.7" y="513.8" class="lg" font-size="12.6">298 K</text>
<circle cx="252.6" cy="524.8" r="3.4" fill="#ff0000"/>
<text x="269.7" y="528.6" class="lg" font-size="12.6">313 K</text>
<path d="M248.7 542.7L252.6 535.8L256.5 542.7Z" fill="#00ff00"/>
<text x="269.7" y="544.4" class="lg" font-size="12.6">333 K</text>
<text transform="translate(41.2 351.9) scale(1.085 1)" class="tt">(C ) Fractal like- PFO Co<tspan font-size="9.8" dy="-5.3">2+</tspan></text>
</g>
<g id="pD">
<clipPath id="cD"><rect x="403.3" y="379" width="263.6" height="221.1"/></clipPath>
<path d="M403.3 379H666.9V600.1" fill="none" stroke="#aaa" stroke-width="1.4"/>
<path d="M399 600.1H403.5M401 588.46H403.5M399 576.83H403.5M401 565.19H403.5M399 553.55H403.5M401 541.92H403.5M399 530.28H403.5M401 518.64H403.5M399 507.01H403.5M401 495.37H403.5M399 483.73H403.5M401 472.09H403.5M399 460.46H403.5M401 448.82H403.5M399 437.18H403.5M401 425.55H403.5M399 413.91H403.5M401 402.27H403.5M399 390.64H403.5M401 379H403.5M403.3 600.5V605M423.58 600.5V603M443.85 600.5V605M464.13 600.5V603M484.41 600.5V605M504.68 600.5V603M524.96 600.5V605M545.24 600.5V603M565.52 600.5V605M585.79 600.5V603M606.07 600.5V605M626.35 600.5V603M646.62 600.5V605M666.9 600.5V603" stroke="#1a1a1a" stroke-width="1" fill="none"/>
<path d="M403.5 379V600.5" fill="none" stroke="#1a1a1a" stroke-width="1.1"/>
<path d="M403 600.5H666.9" fill="none" stroke="#1a1a1a" stroke-width="1.1"/>
<text x="396.5" y="603.4" class="tl" font-size="11.5" text-anchor="end">5.0</text>
<text x="396.5" y="580.13" class="tl" font-size="11.5" text-anchor="end">5.5</text>
<text x="396.5" y="556.85" class="tl" font-size="11.5" text-anchor="end">6.0</text>
<text x="396.5" y="533.58" class="tl" font-size="11.5" text-anchor="end">6.5</text>
<text x="396.5" y="510.31" class="tl" font-size="11.5" text-anchor="end">7.0</text>
<text x="396.5" y="487.03" class="tl" font-size="11.5" text-anchor="end">7.5</text>
<text x="396.5" y="463.76" class="tl" font-size="11.5" text-anchor="end">8.0</text>
<text x="396.5" y="440.48" class="tl" font-size="11.5" text-anchor="end">8.5</text>
<text x="396.5" y="417.21" class="tl" font-size="11.5" text-anchor="end">9.0</text>
<text x="396.5" y="393.94" class="tl" font-size="11.5" text-anchor="end">9.5</text>
<text x="403.6" y="615.9" class="tl" font-size="11.5" text-anchor="middle">0</text>
<text x="444.15" y="615.9" class="tl" font-size="11.5" text-anchor="middle">20</text>
<text x="484.71" y="615.9" class="tl" font-size="11.5" text-anchor="middle">40</text>
<text x="525.26" y="615.9" class="tl" font-size="11.5" text-anchor="middle">60</text>
<text x="565.82" y="615.9" class="tl" font-size="11.5" text-anchor="middle">80</text>
<text x="606.37" y="615.9" class="tl" font-size="11.5" text-anchor="middle">100</text>
<text x="646.92" y="615.9" class="tl" font-size="11.5" text-anchor="middle">120</text>
<text x="534.8" y="636.3" class="al" font-size="11.5" text-anchor="middle">time, min</text>
<text transform="translate(371.8 498.7) rotate(-90)" class="al" font-size="12.2" text-anchor="middle"><tspan font-style="italic">q</tspan><tspan font-style="italic" font-weight="normal" font-size="8.5" dy="4.2" dx="-0.5">e</tspan><tspan dy="-4.2" dx="-0.5">, mmol/Kg</tspan></text>
<rect x="411.09" y="574.48" width="4.7" height="4.7" fill="#000"/>
<rect x="421.23" y="518.62" width="4.7" height="4.7" fill="#000"/>
<rect x="431.37" y="504.66" width="4.7" height="4.7" fill="#000"/>
<rect x="441.5" y="486.04" width="4.7" height="4.7" fill="#000"/>
<rect x="451.64" y="467.42" width="4.7" height="4.7" fill="#000"/>
<rect x="461.78" y="457.64" width="4.7" height="4.7" fill="#000"/>
<rect x="471.92" y="448.8" width="4.7" height="4.7" fill="#000"/>
<rect x="482.06" y="439.49" width="4.7" height="4.7" fill="#000"/>
<rect x="492.2" y="430.18" width="4.7" height="4.7" fill="#000"/>
<rect x="522.61" y="423.2" width="4.7" height="4.7" fill="#000"/>
<rect x="583.44" y="420.87" width="4.7" height="4.7" fill="#000"/>
<rect x="644.27" y="419.01" width="4.7" height="4.7" fill="#000"/>
<circle cx="413.44" cy="498.63" r="2.85" fill="#ff0000"/>
<circle cx="423.58" cy="464.18" r="2.85" fill="#ff0000"/>
<circle cx="433.72" cy="455.34" r="2.85" fill="#ff0000"/>
<circle cx="443.85" cy="443.7" r="2.85" fill="#ff0000"/>
<circle cx="453.99" cy="431.6" r="2.85" fill="#ff0000"/>
<circle cx="464.13" cy="426.01" r="2.85" fill="#ff0000"/>
<circle cx="474.27" cy="419.96" r="2.85" fill="#ff0000"/>
<circle cx="484.41" cy="414.38" r="2.85" fill="#ff0000"/>
<circle cx="494.55" cy="408.32" r="2.85" fill="#ff0000"/>
<circle cx="524.96" cy="404.14" r="2.85" fill="#ff0000"/>
<circle cx="585.79" cy="402.74" r="2.85" fill="#ff0000"/>
<circle cx="646.62" cy="401.81" r="2.85" fill="#ff0000"/>
<path d="M410.24 440.3L413.44 435L416.64 440.3Z" fill="#00ff00"/>
<path d="M420.38 421.22L423.58 415.92L426.78 421.22Z" fill="#00ff00"/>
<path d="M430.52 416.1L433.72 410.8L436.92 416.1Z" fill="#00ff00"/>
<path d="M440.65 410.04L443.85 404.74L447.05 410.04Z" fill="#00ff00"/>
<path d="M450.79 404.46L453.99 399.16L457.19 404.46Z" fill="#00ff00"/>
<path d="M460.93 400.73L464.13 395.43L467.33 400.73Z" fill="#00ff00"/>
<path d="M471.07 397.94L474.27 392.64L477.47 397.94Z" fill="#00ff00"/>
<path d="M481.21 394.68L484.41 389.38L487.61 394.68Z" fill="#00ff00"/>
<path d="M491.35 391.89L494.55 386.59L497.75 391.89Z" fill="#00ff00"/>
<path d="M521.76 389.56L524.96 384.26L528.16 389.56Z" fill="#00ff00"/>
<path d="M582.59 388.17L585.79 382.87L588.99 388.17Z" fill="#00ff00"/>
<path d="M643.42 387.24L646.62 381.94L649.82 387.24Z" fill="#00ff00"/>
<path d="M413.44 564.26V574.48M413.44 579.18V589.39M411.04 564.26H415.84M411.04 589.39H415.84M423.58 505.14V518.62M423.58 523.32V536.8M421.18 505.14H425.98M421.18 536.8H425.98M433.72 490.71V504.66M433.72 509.36V523.3M431.32 490.71H436.12M431.32 523.3H436.12M443.85 471.16V486.04M443.85 490.74V505.61M441.45 471.16H446.25M441.45 505.61H446.25M453.99 451.61V467.42M453.99 472.12V487.92M451.59 451.61H456.39M451.59 487.92H456.39M464.13 440.91V457.64M464.13 462.34V479.08M461.73 440.91H466.53M461.73 479.08H466.53M474.27 432.06V448.8M474.27 453.5V470.23M471.87 432.06H476.67M471.87 470.23H476.67M484.41 422.52V439.49M484.41 444.19V461.16M482.01 422.52H486.81M482.01 461.16H486.81M494.55 412.51V430.18M494.55 434.88V452.54M492.15 412.51H496.95M492.15 452.54H496.95M524.96 405.07V423.2M524.96 427.9V446.03M522.56 405.07H527.36M522.56 446.03H527.36M585.79 402.74V420.87M585.79 425.57V443.7M583.39 402.74H588.19M583.39 443.7H588.19M646.62 400.88V419.01M646.62 423.71V441.84M644.22 400.88H649.02M644.22 441.84H649.02" stroke="#666" stroke-width="1" fill="none" clip-path="url(#cD)"/>
<path d="M413.44 482.34V495.78M413.44 501.48V514.92M411.04 482.34H415.84M411.04 514.92H415.84M423.58 445.56V461.33M423.58 467.03V482.8M421.18 445.56H425.98M421.18 482.8H425.98M433.72 436.25V452.49M433.72 458.19V474.42M431.32 436.25H436.12M431.32 474.42H436.12M443.85 424.62V440.85M443.85 446.55V462.79M441.45 424.62H446.25M441.45 462.79H446.25M453.99 411.58V428.75M453.99 434.45V451.61M451.59 411.58H456.39M451.59 451.61H456.39M464.13 405.53V423.16M464.13 428.86V446.49M461.73 405.53H466.53M461.73 446.49H466.53M474.27 399.48V417.11M474.27 422.81V440.44M471.87 399.48H476.67M471.87 440.44H476.67M484.41 392.96V411.53M484.41 417.23V435.79M482.01 392.96H486.81M482.01 435.79H486.81M494.55 386.91V405.47M494.55 411.17V429.74M492.15 386.91H496.95M492.15 429.74H496.95M524.96 382.72V401.29M524.96 406.99V425.55M522.56 382.72H527.36M522.56 425.55H527.36M585.79 381.33V399.89M585.79 405.59V424.15M583.39 381.33H588.19M583.39 424.15H588.19M646.62 380.4V398.96M646.62 404.66V423.22M644.22 380.4H649.02M644.22 423.22H649.02" stroke="#ff4d4d" stroke-width="1" fill="none" clip-path="url(#cD)"/>
<path d="M413.44 417.63V437.15M413.44 441.65V457.67M411.04 417.63H415.84M411.04 457.67H415.84M423.58 398.08V418.07M423.58 422.57V439.05M421.18 398.08H425.98M421.18 439.05H425.98M433.72 392.03V412.95M433.72 417.45V434.86M431.32 392.03H436.12M431.32 434.86H436.12M443.85 385.98V406.89M443.85 411.39V428.81M441.45 385.98H446.25M441.45 428.81H446.25M453.99 379.93V401.31M453.99 405.81V423.69M451.59 379.93H456.39M451.59 423.69H456.39M464.13 376.67V397.58M464.13 402.08V419.5M461.73 376.67H466.53M461.73 419.5H466.53M474.27 373.88V394.79M474.27 399.29V416.7M471.87 373.88H476.67M471.87 416.7H476.67M484.41 370.62V391.53M484.41 396.03V413.45M482.01 370.62H486.81M482.01 413.45H486.81M494.55 367.83V388.74M494.55 393.24V410.65M492.15 367.83H496.95M492.15 410.65H496.95M524.96 365.5V386.41M524.96 390.91V408.32M522.56 365.5H527.36M522.56 408.32H527.36M585.79 364.57V385.02M585.79 389.52V406.46M583.39 364.57H588.19M583.39 406.46H588.19M646.62 363.64V384.09M646.62 388.59V405.53M644.22 363.64H649.02M644.22 405.53H649.02" stroke="#4dff4d" stroke-width="1" fill="none" clip-path="url(#cD)"/>
<path d="M413.44 575.4L414.45 569.74L415.47 564.25L416.48 558.95L417.49 553.85L418.51 548.98L419.52 544.35L420.54 539.97L421.55 535.88L422.56 532.08L423.58 528.6L424.59 525.38L425.6 522.36L426.62 519.51L427.63 516.81L428.65 514.26L429.66 511.82L430.67 509.48L431.69 507.23L432.7 505.04L433.72 502.9L434.73 500.82L435.74 498.83L436.76 496.91L437.77 495.06L438.78 493.26L439.8 491.51L440.81 489.8L441.83 488.12L442.84 486.45L443.85 484.8L444.87 483.14L445.88 481.47L446.9 479.81L447.91 478.17L448.92 476.57L449.94 475.01L450.95 473.53L451.96 472.12L452.98 470.81L453.99 469.6L455.01 468.5L456.02 467.48L457.03 466.52L458.05 465.61L459.06 464.74L460.08 463.88L461.09 463.04L462.1 462.19L463.12 461.31L464.13 460.4L465.14 459.46L466.16 458.53L467.17 457.58L468.19 456.64L469.2 455.69L470.21 454.74L471.23 453.79L472.24 452.83L473.26 451.87L474.27 450.9L475.28 449.92L476.3 448.91L477.31 447.88L478.32 446.85L479.34 445.82L480.35 444.8L481.37 443.8L482.38 442.83L483.39 441.89L484.41 441L485.42 440.12L486.44 439.21L487.45 438.29L488.46 437.39L489.48 436.52L490.49 435.7L491.5 434.95L492.52 434.29L493.53 433.73L494.55 433.3L495.56 432.95L496.57 432.61L497.59 432.28L498.6 431.97L499.62 431.67L500.63 431.38L501.64 431.1L502.66 430.83L503.67 430.58L504.68 430.34L505.7 430.1L506.71 429.88L507.73 429.66L508.74 429.46L509.75 429.26L510.77 429.07L511.78 428.89L512.8 428.72L513.81 428.56L514.82 428.4L515.84 428.25L516.85 428.1L517.86 427.96L518.88 427.82L519.89 427.69L520.91 427.57L521.92 427.45L522.93 427.33L523.95 427.21L524.96 427.1L525.98 426.99L526.99 426.88L528 426.78L529.02 426.67L530.03 426.57L531.04 426.47L532.06 426.37L533.07 426.27L534.09 426.18L535.1 426.08L536.11 425.99L537.13 425.9L538.14 425.81L539.16 425.72L540.17 425.63L541.18 425.55L542.2 425.46L543.21 425.38L544.22 425.3L545.24 425.22L546.25 425.14L547.27 425.07L548.28 424.99L549.29 424.92L550.31 424.84L551.32 424.77L552.34 424.7L553.35 424.63L554.36 424.56L555.38 424.5L556.39 424.43L557.4 424.37L558.42 424.3L559.43 424.24L560.45 424.18L561.46 424.12L562.47 424.06L563.49 424L564.5 423.94L565.52 423.88L566.53 423.83L567.54 423.77L568.56 423.72L569.57 423.67L570.58 423.61L571.6 423.56L572.61 423.51L573.63 423.46L574.64 423.41L575.65 423.36L576.67 423.31L577.68 423.26L578.7 423.22L579.71 423.17L580.72 423.12L581.74 423.08L582.75 423.03L583.76 422.99L584.78 422.94L585.79 422.9L586.81 422.86L587.82 422.81L588.83 422.77L589.85 422.73L590.86 422.68L591.88 422.64L592.89 422.6L593.9 422.56L594.92 422.52L595.93 422.47L596.94 422.43L597.96 422.39L598.97 422.35L599.99 422.31L601 422.27L602.01 422.23L603.03 422.19L604.04 422.15L605.06 422.11L606.07 422.08L607.08 422.04L608.1 422L609.11 421.96L610.12 421.93L611.14 421.89L612.15 421.85L613.17 421.82L614.18 421.78L615.19 421.75L616.21 421.72L617.22 421.68L618.24 421.65L619.25 421.62L620.26 421.59L621.28 421.56L622.29 421.53L623.3 421.5L624.32 421.47L625.33 421.44L626.35 421.41L627.36 421.38L628.37 421.36L629.39 421.33L630.4 421.3L631.42 421.28L632.43 421.26L633.44 421.23L634.46 421.21L635.47 421.19L636.48 421.17L637.5 421.15L638.51 421.13L639.53 421.11L640.54 421.09L641.55 421.07L642.57 421.06L643.58 421.04L644.6 421.03L645.61 421.01L646.62 421" stroke="#000" stroke-width="1.2" fill="none" clip-path="url(#cD)"/>
<path d="M413.44 498.2L414.45 493.92L415.47 489.78L416.48 485.81L417.49 482.03L418.51 478.47L419.52 475.14L420.54 472.09L421.55 469.33L422.56 466.89L423.58 464.8L424.59 462.99L425.6 461.35L426.62 459.87L427.63 458.51L428.65 457.25L429.66 456.05L430.67 454.9L431.69 453.76L432.7 452.6L433.72 451.4L434.73 450.17L435.74 448.93L436.76 447.7L437.77 446.49L438.78 445.3L439.8 444.14L440.81 443.03L441.83 441.96L442.84 440.95L443.85 440L444.87 439.11L445.88 438.25L446.9 437.43L447.91 436.64L448.92 435.88L449.94 435.15L450.95 434.43L451.96 433.74L452.98 433.06L453.99 432.4L455.01 431.76L456.02 431.15L457.03 430.56L458.05 429.99L459.06 429.43L460.08 428.87L461.09 428.32L462.1 427.76L463.12 427.19L464.13 426.6L465.14 425.99L466.16 425.35L467.17 424.7L468.19 424.04L469.2 423.38L470.21 422.73L471.23 422.1L472.24 421.49L473.26 420.93L474.27 420.4L475.28 419.91L476.3 419.45L477.31 419.01L478.32 418.59L479.34 418.18L480.35 417.78L481.37 417.39L482.38 416.99L483.39 416.6L484.41 416.2L485.42 415.79L486.44 415.38L487.45 414.96L488.46 414.54L489.48 414.13L490.49 413.73L491.5 413.35L492.52 412.98L493.53 412.63L494.55 412.3L495.56 411.99L496.57 411.68L497.59 411.37L498.6 411.07L499.62 410.77L500.63 410.47L501.64 410.17L502.66 409.88L503.67 409.59L504.68 409.31L505.7 409.03L506.71 408.76L507.73 408.49L508.74 408.22L509.75 407.97L510.77 407.71L511.78 407.47L512.8 407.23L513.81 407L514.82 406.78L515.84 406.56L516.85 406.35L517.86 406.15L518.88 405.96L519.89 405.77L520.91 405.6L521.92 405.43L522.93 405.28L523.95 405.13L524.96 405L525.98 404.87L526.99 404.75L528 404.62L529.02 404.51L530.03 404.39L531.04 404.27L532.06 404.16L533.07 404.05L534.09 403.95L535.1 403.84L536.11 403.74L537.13 403.64L538.14 403.54L539.16 403.45L540.17 403.35L541.18 403.26L542.2 403.17L543.21 403.08L544.22 403L545.24 402.91L546.25 402.83L547.27 402.75L548.28 402.67L549.29 402.59L550.31 402.51L551.32 402.44L552.34 402.36L553.35 402.29L554.36 402.22L555.38 402.14L556.39 402.07L557.4 402L558.42 401.93L559.43 401.87L560.45 401.8L561.46 401.73L562.47 401.66L563.49 401.6L564.5 401.53L565.52 401.47L566.53 401.4L567.54 401.33L568.56 401.27L569.57 401.2L570.58 401.14L571.6 401.07L572.61 401.01L573.63 400.94L574.64 400.87L575.65 400.81L576.67 400.74L577.68 400.67L578.7 400.6L579.71 400.53L580.72 400.46L581.74 400.39L582.75 400.32L583.76 400.25L584.78 400.17L585.79 400.1L586.81 400.02L587.82 399.95L588.83 399.87L589.85 399.8L590.86 399.73L591.88 399.65L592.89 399.58L593.9 399.5L594.92 399.43L595.93 399.35L596.94 399.28L597.96 399.21L598.97 399.13L599.99 399.06L601 398.99L602.01 398.92L603.03 398.84L604.04 398.77L605.06 398.7L606.07 398.63L607.08 398.55L608.1 398.48L609.11 398.41L610.12 398.34L611.14 398.27L612.15 398.2L613.17 398.13L614.18 398.06L615.19 397.99L616.21 397.92L617.22 397.85L618.24 397.78L619.25 397.71L620.26 397.64L621.28 397.57L622.29 397.5L623.3 397.43L624.32 397.36L625.33 397.29L626.35 397.22L627.36 397.16L628.37 397.09L629.39 397.02L630.4 396.95L631.42 396.89L632.43 396.82L633.44 396.75L634.46 396.68L635.47 396.62L636.48 396.55L637.5 396.49L638.51 396.42L639.53 396.35L640.54 396.29L641.55 396.22L642.57 396.16L643.58 396.09L644.6 396.03L645.61 395.96L646.62 395.9" stroke="#ff0000" stroke-width="1.2" fill="none" clip-path="url(#cD)"/>
<path d="M413.44 437.1L414.45 434.72L415.47 432.42L416.48 430.22L417.49 428.13L418.51 426.18L419.52 424.37L420.54 422.73L421.55 421.28L422.56 420.03L423.58 419L424.59 418.14L425.6 417.39L426.62 416.72L427.63 416.11L428.65 415.56L429.66 415.03L430.67 414.52L431.69 414.01L432.7 413.47L433.72 412.9L434.73 412.3L435.74 411.7L436.76 411.09L437.77 410.49L438.78 409.89L439.8 409.3L440.81 408.71L441.83 408.13L442.84 407.56L443.85 407L444.87 406.44L445.88 405.88L446.9 405.31L447.91 404.75L448.92 404.2L449.94 403.67L450.95 403.16L451.96 402.67L452.98 402.22L453.99 401.8L455.01 401.42L456.02 401.06L457.03 400.72L458.05 400.4L459.06 400.09L460.08 399.78L461.09 399.49L462.1 399.2L463.12 398.9L464.13 398.6L465.14 398.3L466.16 398.01L467.17 397.72L468.19 397.44L469.2 397.16L470.21 396.88L471.23 396.59L472.24 396.3L473.26 396.01L474.27 395.7L475.28 395.38L476.3 395.05L477.31 394.71L478.32 394.37L479.34 394.02L480.35 393.67L481.37 393.32L482.38 392.98L483.39 392.63L484.41 392.3L485.42 391.95L486.44 391.56L487.45 391.16L488.46 390.75L489.48 390.36L490.49 389.99L491.5 389.67L492.52 389.4L493.53 389.21L494.55 389.1L495.56 389.04L496.57 388.99L497.59 388.95L498.6 388.9L499.62 388.86L500.63 388.83L501.64 388.8L502.66 388.77L503.67 388.74L504.68 388.71L505.7 388.69L506.71 388.67L507.73 388.65L508.74 388.63L509.75 388.61L510.77 388.59L511.78 388.58L512.8 388.56L513.81 388.54L514.82 388.53L515.84 388.51L516.85 388.49L517.86 388.48L518.88 388.46L519.89 388.44L520.91 388.41L521.92 388.39L522.93 388.36L523.95 388.33L524.96 388.3L525.98 388.27L526.99 388.23L528 388.19L529.02 388.15L530.03 388.11L531.04 388.06L532.06 388.02L533.07 387.97L534.09 387.92L535.1 387.87L536.11 387.82L537.13 387.77L538.14 387.72L539.16 387.66L540.17 387.61L541.18 387.55L542.2 387.49L543.21 387.43L544.22 387.37L545.24 387.32L546.25 387.26L547.27 387.2L548.28 387.13L549.29 387.07L550.31 387.01L551.32 386.95L552.34 386.89L553.35 386.83L554.36 386.77L555.38 386.71L556.39 386.65L557.4 386.59L558.42 386.53L559.43 386.47L560.45 386.41L561.46 386.35L562.47 386.29L563.49 386.24L564.5 386.18L565.52 386.13L566.53 386.08L567.54 386.03L568.56 385.98L569.57 385.93L570.58 385.88L571.6 385.83L572.61 385.79L573.63 385.75L574.64 385.71L575.65 385.67L576.67 385.63L577.68 385.6L578.7 385.56L579.71 385.53L580.72 385.5L581.74 385.48L582.75 385.45L583.76 385.43L584.78 385.42L585.79 385.4L586.81 385.39L587.82 385.37L588.83 385.36L589.85 385.34L590.86 385.33L591.88 385.32L592.89 385.3L593.9 385.29L594.92 385.28L595.93 385.26L596.94 385.25L597.96 385.24L598.97 385.23L599.99 385.21L601 385.2L602.01 385.19L603.03 385.18L604.04 385.17L605.06 385.16L606.07 385.14L607.08 385.13L608.1 385.12L609.11 385.11L610.12 385.1L611.14 385.09L612.15 385.08L613.17 385.07L614.18 385.06L615.19 385.05L616.21 385.04L617.22 385.03L618.24 385.03L619.25 385.02L620.26 385.01L621.28 385L622.29 384.99L623.3 384.99L624.32 384.98L625.33 384.97L626.35 384.97L627.36 384.96L628.37 384.95L629.39 384.95L630.4 384.94L631.42 384.94L632.43 384.93L633.44 384.93L634.46 384.92L635.47 384.92L636.48 384.92L637.5 384.91L638.51 384.91L639.53 384.91L640.54 384.91L641.55 384.9L642.57 384.9L643.58 384.9L644.6 384.9L645.61 384.9L646.62 384.9" stroke="#00ff00" stroke-width="1.0" fill="none" clip-path="url(#cD)"/>
<rect x="603.2" y="506.6" width="5.8" height="5.8" fill="#000"/>
<text x="622.6" y="513.8" class="lg" font-size="12.6">298 K</text>
<circle cx="606.1" cy="524.8" r="3.4" fill="#ff0000"/>
<text x="622.6" y="528.6" class="lg" font-size="12.6">313 K</text>
<path d="M602.2 542.7L606.1 535.8L610 542.7Z" fill="#00ff00"/>
<text x="622.6" y="544.4" class="lg" font-size="12.6">333 K</text>
<text transform="translate(385.8 351.9) scale(1.085 1)" class="tt">(D) Fractal like-PSO Co<tspan font-size="9.8" dy="-5.3">2+</tspan></text>
</g>
</svg>
</body></html>
